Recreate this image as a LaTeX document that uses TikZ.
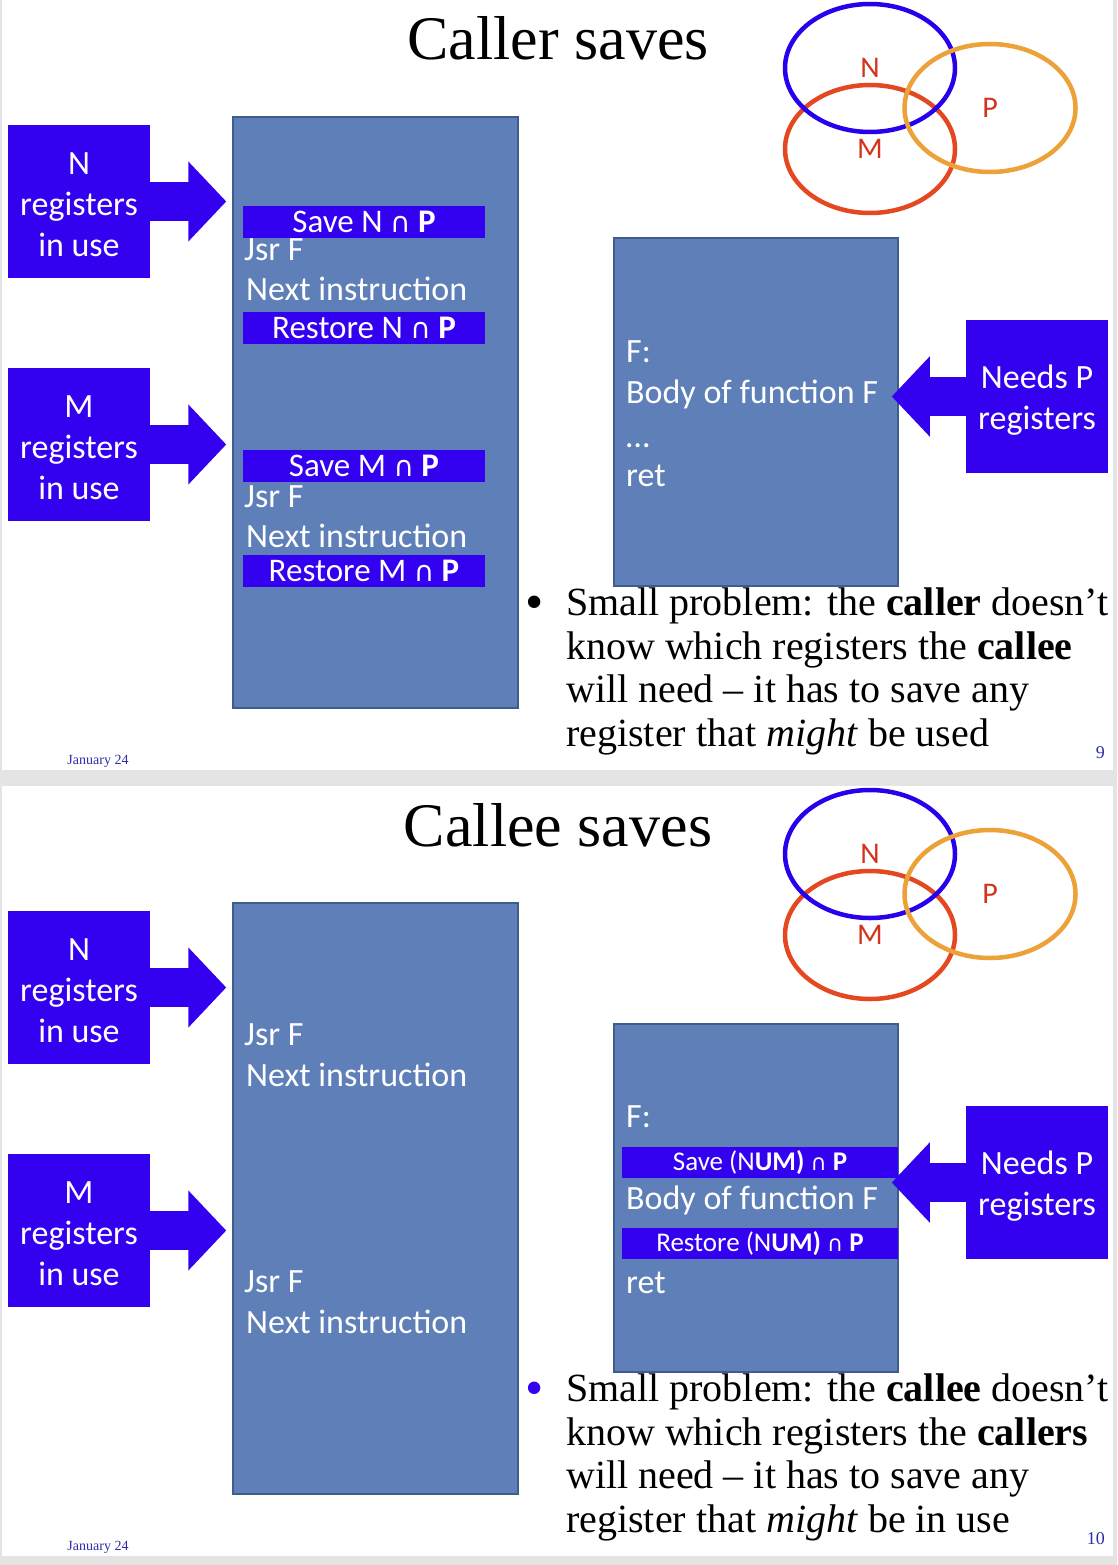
\documentclass[tikz,border=0pt]{standalone}
\usepackage{fontspec}
\setmainfont{Liberation Serif}
\newfontfamily\slidesans{Carlito}
\newfontfamily\symfont{DejaVu Sans}
\usetikzlibrary{arrows.meta, positioning, calc, math}
\usetikzlibrary{shapes.geometric}
\definecolor{regblue}{RGB}{51,0,240}
\definecolor{codeblue}{RGB}{94,127,184}
\definecolor{codeedge}{RGB}{62,92,140}
\definecolor{vennN}{RGB}{40,0,235}
\definecolor{vennM}{RGB}{228,72,32}
\definecolor{vennP}{RGB}{236,162,56}
\definecolor{vennlbl}{RGB}{212,52,30}
\definecolor{footblue}{RGB}{45,45,170}
\definecolor{pagegray}{RGB}{228,228,228}
\newcommand{\intsec}{{\symfont\fontsize{28}{28}\selectfont ∩}}
\newcommand{\intsecsm}{{\symfont\fontsize{22}{22}\selectfont ∩}}

\begin{document}
\begin{tikzpicture}[x=1pt,y=-1pt,
  regbox/.style={fill=regblue, minimum width=142pt, minimum height=153pt, inner sep=0pt},
  regtext/.style={text=white, align=center, inner sep=0pt,
    font=\slidesans\fontsize{34}{41}\selectfont},
  codebox/.style={fill=codeblue, draw=codeedge, line width=1.5pt, inner sep=0pt},
  codeline/.style={text=white, anchor=mid west, inner sep=0pt, yshift=-8.5pt,
    font=\slidesans\fontsize{34}{41}\selectfont},
  savebar/.style={fill=regblue, text=white, inner sep=0pt, minimum width=242pt,
    minimum height=32pt, font=\slidesans\fontsize{33}{33}\selectfont},
  smallbar/.style={savebar, minimum width=276pt, minimum height=31pt,
    font=\slidesans\fontsize{27}{27}\selectfont},
  fatarrow/.style={draw=regblue, line width=39pt, -{Triangle[length=38pt, width=78pt]}},
  venn/.style={ellipse, line width=4.5pt, inner sep=0pt, minimum width=170pt,
    minimum height=128pt, text=vennlbl, font=\slidesans\fontsize{30}{30}\selectfont},
  slidetitle/.style={anchor=base, inner sep=0pt, font=\fontsize{62}{62}\selectfont},
  bullettext/.style={align=left, anchor=north west, inner sep=0pt,
    font=\fontsize{40}{43.5}\selectfont},
  bulletdot/.style={inner sep=0pt, font=\fontsize{52}{52}\selectfont},
  footer/.style={text=footblue, inner sep=0pt, font=\fontsize{14}{14}\selectfont}]
\useasboundingbox (0,0) rectangle (1117,1565);

%page background
\fill[pagegray] (0,0) rectangle (1117,1565);

%parts shared by both slides
\foreach \s/\dy/\ttl/\pg in {1/0/Caller saves/9, 2/786/Callee saves/10}{
 \begin{scope}[shift={(0,\dy)}]
  \fill[white] (2,0) rectangle (1113,770);
  \node[slidetitle] (title\s) at (558,60) {\ttl};

  %register boxes and arrows
  \node[regbox] (nreg\s) at (79,201.5) {};
  \node[regtext] (ntext\s) at ([yshift=-3pt]nreg\s.center) {N\\registers\\in use};
  \node[regbox] (mreg\s) at (79,444.5) {};
  \node[regtext] (mtext\s) at ([yshift=-3pt]mreg\s.center) {M\\registers\\in use};
  \node[codebox, minimum width=285pt, minimum height=591pt] (code\s) at (375.5,412.5) {};
  \draw[fatarrow] (nreg\s.east) -- ([xshift=-6pt]nreg\s.east -| code\s.west);
  \draw[fatarrow] (mreg\s.east) -- ([xshift=-6pt]mreg\s.east -| code\s.west);

  \node[codebox, minimum width=284pt, minimum height=348pt] (fbody\s) at (756,412) {};
  \node[regbox] (needp\s) at (1037,396.5) {};
  \node[regtext] (ptext\s) at ([yshift=-4pt]needp\s.center) {Needs P\\registers};

  %sets
  \node[venn, draw=vennM] (setM\s) at (870,149) {M};
  \node[venn, draw=vennN] (setN\s) at (870,68) {N};
  \node[venn, draw=vennP, minimum width=171pt] (setP\s) at (990,108) {P};

  \node[footer] (date\s) at (98,761) {January 24};
  \node[footer, font=\fontsize{18}{18}\selectfont, anchor=east] (page\s) at (1105,753) {\pg};
 \end{scope}
}

%caller saves
\node[savebar] (saven) at (364,222) {Save N \intsec{} \textbf{P}};
\node[codeline] (jsrn) at (244,250) {Jsr F};
\node[codeline] (nextn) at (246,290) {Next instruction};
\node[savebar] (restn) at (364,328) {Restore N \intsec{} \textbf{P}};
\node[savebar] (savem) at (364,466) {Save M \intsec{} \textbf{P}};
\node[codeline] (jsrm) at (244,497) {Jsr F};
\node[codeline] (nextm) at (246,537) {Next instruction};
\node[savebar] (restm) at (364,571) {Restore M \intsec{} \textbf{P}};

\node[codeline] (flabel1) at (626,352) {F:};
\node[codeline] (body1) at (626,393) {Body of function F};
\node[codeline] (dots1) at (626,437) {…};
\node[codeline] (ret1) at (626,476) {ret};
\draw[fatarrow] (needp1.west) -- ([xshift=-7pt]needp1.west -| fbody1.east);

\node[bulletdot] (dot1) at (535,608) {•};
\node[bullettext] (prob1) at (566,588) {Small problem: the \textbf{caller} doesn’t\\
 know which registers the \textbf{callee}\\
 will need – it has to save any\\
 register that \textit{might} be used};

%callee saves
\node[codeline] (jsrn2) at (244,1035) {Jsr F};
\node[codeline] (nextn2) at (246,1076) {Next instruction};
\node[codeline] (jsrm2) at (244,1282) {Jsr F};
\node[codeline] (nextm2) at (246,1323) {Next instruction};

\node[codeline] (flabel2) at (626,1117) {F:};
\node[smallbar] (savep) at (760,1162.5) {Save (N\textbf{UM)} \intsecsm{} \textbf{P}};
\node[codeline] (body2) at (626,1199) {Body of function F};
\node[smallbar] (restp) at (760,1243.5) {Restore (N\textbf{UM)} \intsecsm{} \textbf{P}};
\node[codeline] (ret2) at (626,1283) {ret};
\draw[fatarrow] (needp2.west) -- ([xshift=-7pt]needp2.west -| fbody2.east);

\node[bulletdot, text=regblue] (dot2) at (535,1394) {•};
\node[bullettext] (prob2) at (566,1374) {Small problem: the \textbf{callee} doesn’t\\
 know which registers the \textbf{callers}\\
 will need – it has to save any\\
 register that \textit{might} be in use};
\end{tikzpicture}
\end{document}
